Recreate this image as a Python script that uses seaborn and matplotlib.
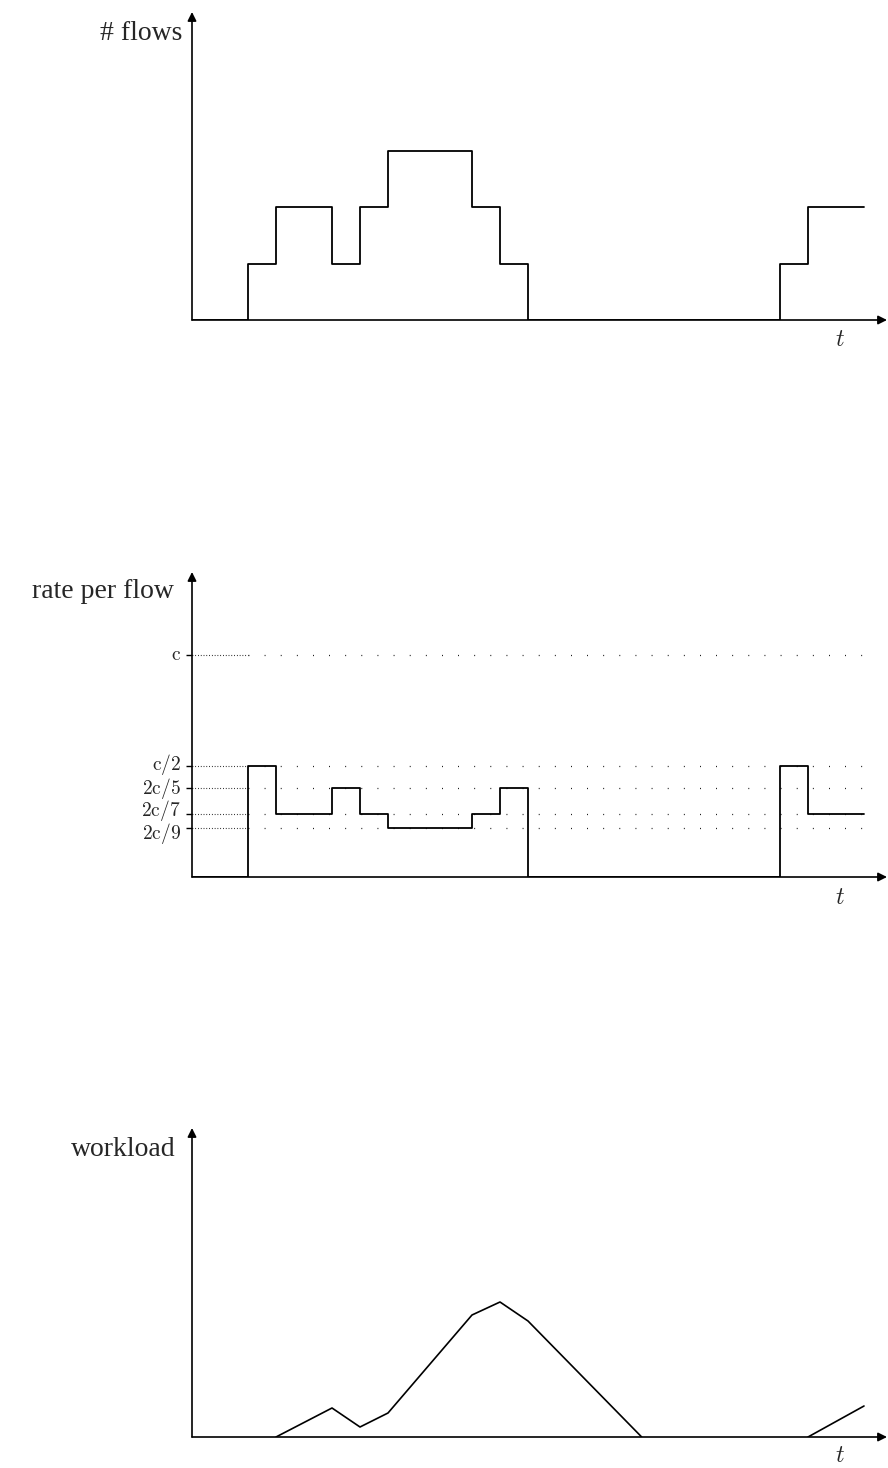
import matplotlib
matplotlib.use('Agg')
import matplotlib.pyplot as plt
import seaborn as sns

# データ
# フロー数の階段関数
t_flows = [0, 2, 3, 5, 6, 7, 10, 11, 12, 21, 22, 24]
n_flows = [0, 1, 2, 1, 2, 3, 2, 1, 0, 1, 2, 2]

# フローあたりのレート (Cで正規化)
rate = [0, 1/2, 2/7, 2/5, 2/7, 2/9, 2/7, 2/5, 0, 1/2, 2/7, 2/7]
rate_levels = [1, 1/2, 2/5, 2/7, 2/9]
rate_labels = [r'$\mathrm{c}$', r'$\mathrm{c}/2$', r'$2\mathrm{c}/5$',
               r'$2\mathrm{c}/7$', r'$2\mathrm{c}/9$']

# ワークロード (折れ線)
t_work1 = [3, 5, 6, 7, 10, 11, 12, 16.06]
work1 = [0, 29, 10, 24, 122, 135, 116, 0]
t_work2 = [22, 24]
work2 = [0, 31]

sns.set_theme(style='white')
plt.rcParams['font.family'] = ['Liberation Serif', 'DejaVu Serif']
plt.rcParams['mathtext.fontset'] = 'cm'

W, H = 888, 1468
fig = plt.figure(figsize=(W / 100, H / 100), dpi=100)

X0, X1 = 192, 887
XMAX = (X1 - X0) / 28


def make_axes(top, bottom):
    ax = fig.add_axes([X0 / W, 1 - bottom / H, (X1 - X0) / W, (bottom - top) / H])
    for s in ax.spines.values():
        s.set_visible(False)
    ax.set_xlim(0, XMAX)
    ax.set_xticks([])
    ax.set_xlabel('')
    ax.set_ylabel('')
    # 矢印付きの軸
    arrow = dict(arrowstyle='-|>', color='black', lw=1.2, mutation_scale=13,
                 shrinkA=0, shrinkB=0)
    ax.annotate('', xy=(1, 0), xytext=(0, 0), xycoords='axes fraction', arrowprops=arrow)
    ax.annotate('', xy=(0, 1), xytext=(0, 0), xycoords='axes fraction', arrowprops=arrow)
    return ax


def label(x, y, s, **kw):
    fig.text(x / W, 1 - y / H, s, **kw)


# フロー数
ax1 = make_axes(12, 320)
sns.lineplot(x=t_flows, y=n_flows, drawstyle='steps-post', color='black', lw=1.3, ax=ax1)
ax1.set_ylim(0, 308 / 56.3)
ax1.set_yticks([])
label(182, 33, '# flows', ha='right', va='center', fontsize=20)
label(840, 340, r'$t$', ha='center', va='center', fontsize=17)

# フローあたりのレート
ax2 = make_axes(572, 877)
ax2.set_ylim(0, 305 / 222)
for lv in rate_levels:
    # 軸の近くは細かい点線、その先は粗い点線
    ax2.plot([0, 2], [lv, lv], color='black', lw=0.8, linestyle=(0, (0.7, 1.8)))
    ax2.plot([2, 24.1], [lv, lv], color='black', lw=0.9, linestyle=(0, (0.7, 12.2)))
sns.lineplot(x=t_flows, y=rate, drawstyle='steps-post', color='black', lw=1.3, ax=ax2)
ax2.set_yticks(rate_levels)
ax2.set_yticklabels([''] * len(rate_levels))
ax2.tick_params(axis='y', length=4.5, width=1, color='black', left=True)
# 目盛りラベル (下の2つは詰まっているので少しずらす)
label_dy = [0, 1, 0, 2, -4]
for lv, lab, dy in zip(rate_levels, rate_labels, label_dy):
    ax2.annotate(lab, xy=(0, lv), xycoords=('axes fraction', 'data'),
                 xytext=(-8, dy), textcoords='offset points',
                 ha='right', va='center', fontsize=14)
label(174, 592, 'rate per flow', ha='right', va='center', fontsize=20)
label(840, 898, r'$t$', ha='center', va='center', fontsize=17)

# ワークロード
ax3 = make_axes(1128, 1437)
ax3.set_ylim(0, 309)
ax3.set_yticks([])
sns.lineplot(x=t_work1, y=work1, color='black', lw=1.2, ax=ax3)
sns.lineplot(x=t_work2, y=work2, color='black', lw=1.2, ax=ax3)
label(176, 1150, 'workload', ha='right', va='center', fontsize=20)
label(840, 1457, r'$t$', ha='center', va='center', fontsize=17)

plt.savefig('out.png', dpi=100)
